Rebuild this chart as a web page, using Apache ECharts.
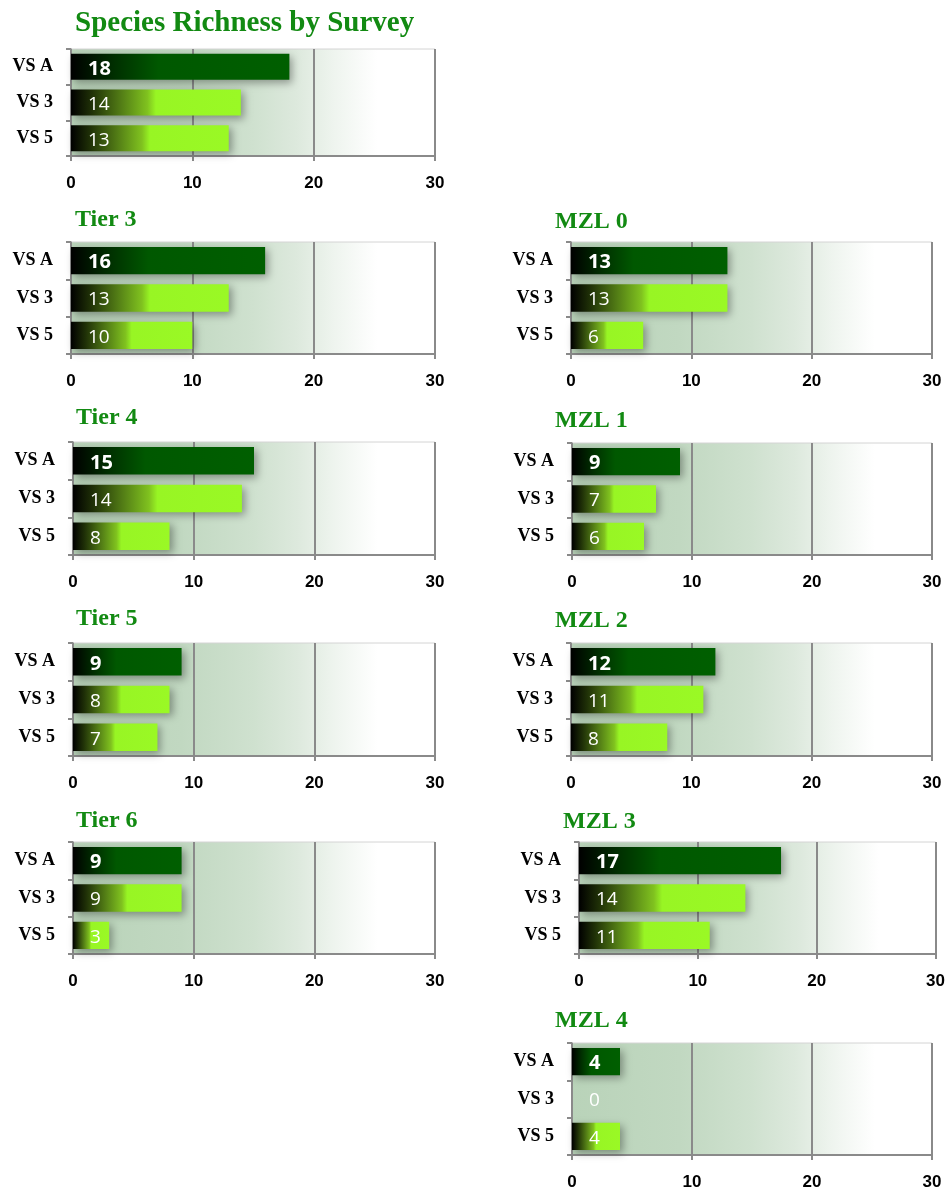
<!DOCTYPE html>
<html>
<head>
<meta charset="utf-8">
<title>Species Richness by Survey</title>
<script src="https://cdn.jsdelivr.net/npm/echarts@6/dist/echarts.min.js"></script>
<style>
  html, body { margin: 0; padding: 0; background: #ffffff; }
  #chart { width: 948px; height: 1195px; }
</style>
</head>
<body>
<div id="chart"></div>
<script>
// Survey categories (top to bottom) and x-axis ticks
const surveys = ['VS A', 'VS 3', 'VS 5'];
const xTicks = [0, 10, 20, 30];

// Species counts per panel, in survey order
const overall = [18, 14, 13];
const tier3 = [16, 13, 10];
const tier4 = [15, 14, 8];
const tier5 = [9, 8, 7];
const tier6 = [9, 9, 3];
const mzl0 = [13, 13, 6];
const mzl1 = [9, 7, 6];
const mzl2 = [12, 11, 8];
const mzl3 = [17, 14, 11];
const mzl4 = [4, 0, 4];

const panelTitles = ['Species Richness by Survey', 'Tier 3', 'Tier 4', 'Tier 5', 'Tier 6',
  'MZL 0', 'MZL 1', 'MZL 2', 'MZL 3', 'MZL 4'];
const panelValues = [overall, tier3, tier4, tier5, tier6, mzl0, mzl1, mzl2, mzl3, mzl4];

// Panel placement: plot rectangle and title anchor
const layout = [
  { left: 71,  top: 49,   width: 364, height: 107, tx: 75,  ty: 24,   tSize: 29 },
  { left: 71,  top: 242,  width: 364, height: 112, tx: 75,  ty: 220,  tSize: 24 },
  { left: 73,  top: 442,  width: 362, height: 113, tx: 76,  ty: 418,  tSize: 24 },
  { left: 73,  top: 643,  width: 362, height: 113, tx: 76,  ty: 619,  tSize: 24 },
  { left: 73,  top: 842,  width: 362, height: 112, tx: 76,  ty: 821,  tSize: 24 },
  { left: 571, top: 242,  width: 361, height: 112, tx: 555, ty: 222,  tSize: 24 },
  { left: 572, top: 443,  width: 360, height: 112, tx: 555, ty: 421,  tSize: 24 },
  { left: 571, top: 643,  width: 361, height: 113, tx: 555, ty: 621,  tSize: 24 },
  { left: 579, top: 842,  width: 361, height: 112, tx: 563, ty: 822,  tSize: 24 },
  { left: 572, top: 1043, width: 360, height: 112, tx: 555, ty: 1021, tSize: 24 }
];

const axisGray = '#8a8a8a';

function hGrad(stops) {
  return { type: 'linear', x: 0, y: 0, x2: 1, y2: 0,
    colorStops: stops.map(s => ({ offset: s[0], color: s[1] })) };
}

const plotBg = hGrad([[0, '#b9d3b9'], [0.3, '#c1d8c1'], [0.5, '#cfe1cf'], [0.62, '#dde9dd'],
  [0.72, '#eef4ee'], [0.84, '#ffffff'], [1, '#ffffff']]);
const darkBar = hGrad([[0, '#000000'], [0.2, '#003000'], [0.4, '#005800'], [1, '#005f00']]);
const limeBar = hGrad([[0, '#000000'], [0.12, '#1f3007'], [0.3, '#547f16'], [0.45, '#80c21f'],
  [0.5, '#98f524'], [1, '#9af925']]);

const grids = [], xAxes = [], yAxes = [], series = [], graphics = [];

panelValues.forEach((vals, i) => {
  const g = layout[i];
  grids.push({
    left: g.left, top: g.top, width: g.width, height: g.height,
    show: true, backgroundColor: plotBg, borderColor: '#d4d4d4', borderWidth: 1,
    containLabel: false
  });
  xAxes.push({
    type: 'value', gridIndex: i, min: xTicks[0], max: xTicks[xTicks.length - 1],
    interval: xTicks[1] - xTicks[0],
    axisLine: { show: true, lineStyle: { color: axisGray, width: 2 } },
    axisTick: { show: true, length: 5, lineStyle: { color: axisGray, width: 2 } },
    splitLine: { show: true, lineStyle: { color: axisGray, width: 2 } },
    axisLabel: { margin: 19, color: '#000', fontFamily: 'Liberation Sans',
      fontWeight: 'bold', fontSize: 17 }
  });
  yAxes.push({
    type: 'category', gridIndex: i, data: surveys, inverse: true,
    axisLine: { show: true, lineStyle: { color: axisGray, width: 1 } },
    axisTick: { show: true, length: 5, lineStyle: { color: axisGray, width: 2 } },
    axisLabel: { margin: 18, color: '#000', fontFamily: 'Liberation Serif',
      fontWeight: 'bold', fontSize: 18 }
  });
  series.push({
    type: 'bar', xAxisIndex: i, yAxisIndex: i, barWidth: '73%',
    data: vals.map((v, k) => ({
      value: v,
      itemStyle: { color: k === 0 ? darkBar : limeBar },
      label: k === 0
        ? { fontWeight: 'bold', fontSize: 20 }
        : { fontWeight: 'normal', fontSize: 19 }
    })),
    itemStyle: {
      shadowBlur: 8, shadowColor: 'rgba(0,0,0,0.35)', shadowOffsetX: 3, shadowOffsetY: 3
    },
    label: {
      show: true, position: 'insideLeft', distance: 17, color: '#ffffff',
      fontFamily: 'Open Sans', offset: [0, 2]
    },
    silent: true, animation: false
  });
  graphics.push({
    type: 'text', x: g.tx, y: g.ty,
    style: {
      text: panelTitles[i], fill: '#128a12',
      font: 'bold ' + g.tSize + 'px "Liberation Serif"',
      textAlign: 'left', textVerticalAlign: 'middle'
    }
  });
});

const chart = echarts.init(document.getElementById('chart'), null, { renderer: 'canvas' });
chart.setOption({
  backgroundColor: '#ffffff',
  animation: false,
  grid: grids,
  xAxis: xAxes,
  yAxis: yAxes,
  series: series,
  graphic: graphics
});
</script>
</body>
</html>
